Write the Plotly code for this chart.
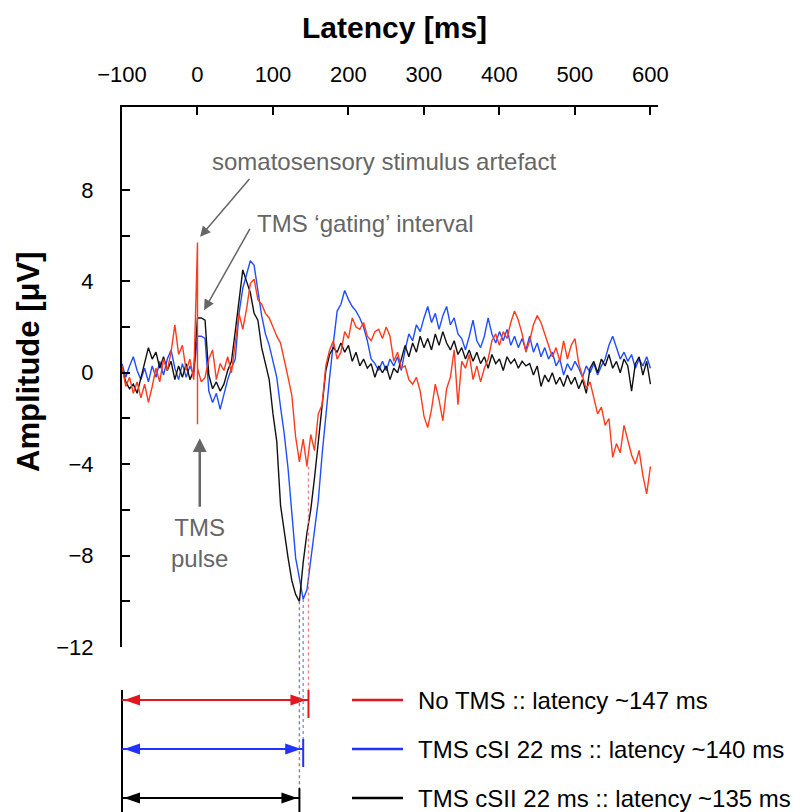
import plotly.graph_objects as go

# Averaged SEP traces, sampled every 5 ms from -100 ms to 600 ms (amplitude in µV)
T_START = -100
T_STEP = 5

NO_TMS = [
    0.3, -0.6, -0.2, -0.9, -0.4, -1.1, -0.5, -1.3, -0.6, 0.2,
    -0.4, 0.6, 0.1, 0.9, 2.1, 0.8, 1.2, 0.1, 0.6, -0.3,
    0.2, -0.4, -0.2, 0.6, 1.0, -0.3, 0.4, 0.1, 0.7, 0.0,
    1.3, 2.6, 1.9, 2.8, 3.9, 4.1, 3.2, 3.0, 2.6, 2.4,
    2.0, 1.6, 1.3, 0.6, -0.2, -1.0, -2.8, -3.9, -2.9, -4.1,
    -2.7, -3.4, -1.8, -1.4, 0.3, 1.0, 1.4, 0.6, 0.9, 1.8,
    1.5, 2.4, 2.0, 1.9, 2.2, 1.6, 1.4, 1.8, 1.9, 1.5,
    2.0, 1.6, 0.5, 0.9, 0.2, 0.3, -0.3, -0.5, -0.2, -0.8,
    -1.9, -2.4, -1.6, -0.5, -1.2, -2.1, -0.7, -0.2, 1.0, -1.4,
    0.5, 0.2, 0.8, -0.3, 0.3, -0.4, 0.2, 0.6, 1.4, 1.7,
    1.2, 1.8, 1.5, 2.2, 2.7, 2.3, 1.7, 0.9, 1.4, 2.1,
    2.5, 2.2, 1.7, 1.3, 0.7, 1.1, 0.5, 1.4, 0.6, 1.2,
    1.5, 0.4, -0.2, -0.7, -0.4, -1.1, -1.8, -1.5, -2.3, -2.0,
    -3.7, -3.1, -3.5, -2.3, -2.9, -3.6, -4.0, -3.4, -4.5, -5.3,
    -4.1,
]
TMS_CSI = [
    0.4, -0.2, 0.3, 0.7, 0.1, -0.3, 0.2, -0.4, 0.3, -0.2,
    0.5, -0.1, 0.6, 1.0, 0.2, -0.3, 0.4, -0.2, 0.3, -0.1,
    1.6, 1.6, 1.5, -0.8, -1.3, -0.9, -1.6, -0.9, -0.3, 0.2,
    0.6, 2.6, 3.7, 4.3, 4.9, 4.7, 3.6, 2.5, 1.7, 1.2,
    0.5, -0.2, -1.5, -2.7, -4.2, -6.1, -8.1, -9.0, -9.9, -9.5,
    -8.2, -7.0, -5.6, -3.6, -1.8, -0.2, 1.3, 2.7, 3.0, 3.6,
    3.2, 2.9, 2.7, 2.4, 2.0, 1.4, 0.6, 0.4, 0.1, 0.5,
    0.1, 0.6, 0.3, 0.7, 0.1, 1.0, 1.7, 1.4, 2.1, 1.8,
    2.4, 2.9, 2.2, 2.6, 1.9, 2.5, 2.9, 2.1, 2.4, 1.7,
    1.5, 1.0, 1.6, 2.3, 1.4, 1.1, 1.6, 2.4, 1.7, 1.3,
    1.8, 1.4, 1.9, 1.2, 1.6, 1.1, 1.5, 1.0, 1.6, 0.9,
    1.3, 0.7, 1.1, 0.6, 0.9, 0.3, 0.6, -0.1, 0.4, 0.1,
    0.5, 0.2, -0.2, 0.3, 0.0, 0.4, -0.1, 0.3, 0.6, 1.2,
    1.6, 1.1, 0.6, 0.9, 0.5, 0.8, 0.2, 0.6, 0.3, 0.7,
    0.2,
]
TMS_CSII = [
    0.2, -0.4, -0.7, -0.5, -0.9, -0.2, 0.4, 1.1, 0.6, 0.9,
    0.2, 0.7, 0.1, 0.5, -0.3, 0.3, -0.2, 0.4, -0.3, 0.1,
    2.4, 2.4, 2.3, -0.1, -0.7, -0.4, -0.8, -0.5, 0.1, 0.5,
    1.8, 3.2, 4.5, 4.0, 3.5, 2.6, 2.3, 1.1, 0.4, -0.3,
    -1.8, -3.0, -5.8, -7.0, -8.1, -9.1, -9.7, -10.0, -8.3, -7.0,
    -6.0, -4.6, -3.0, -1.7, 0.1, 0.8, 1.1, 0.9, 1.3, 0.9,
    1.2, 0.5, 0.9, 0.3, 0.6, 0.2, 0.4, -0.2, 0.3, 0.0,
    0.3, -0.3, 0.2, 0.0, 0.6, 1.2, 0.7, 1.3, 0.9, 1.6,
    1.1, 1.5, 1.0, 1.7, 1.2, 1.8, 1.3, 1.0, 1.4, 0.8,
    1.1, 0.6, 1.0, 0.5, 0.9, 0.4, 0.7, 0.2, 0.8, 0.4,
    0.6, 0.1, 0.7, 0.4, 0.6, 0.2, 0.5, 0.3, 0.4, -0.1,
    0.3, -0.6, -0.1, -0.4, 0.0, -0.5, -0.2, -0.6, -0.1, -0.5,
    -0.2, -0.7, -0.3, -0.9, 0.2, 0.5, 0.0, 0.6, 0.3, 0.8,
    0.2, 0.5, 0.0, 0.6, 0.3, -0.8, 0.4, 0.7, -0.1, 0.5,
    -0.5,
]
# Somatosensory stimulus artefact in the No-TMS trace at 0 ms (peak, trough)
STIM_ARTEFACT = [5.7, -2.25]

CONDITIONS = ["No TMS", "TMS cSI 22 ms", "TMS cSII 22 ms"]
LATENCIES = [147, 140, 135]

X_TICKS = [-100, 0, 100, 200, 300, 400, 500, 600]
X_TICK_LABELS = ["\u2212100", "0", "100", "200", "300", "400", "500", "600"]
Y_TICKS = [-12, -10, -8, -6, -4, -2, 0, 2, 4, 6, 8]
Y_TICK_LABELS = ["\u221212", "", "\u22128", "", "\u22124", "", "0", "", "4", "", "8"]

# ---- styling / geometry ----
FONT = "Liberation Sans, Arial, Helvetica, sans-serif"
GREY = "#666666"
TRACE_COLORS = ["#ff3b1c", "#1f4dff", "#111111"]
MARK_COLORS = ["#e3161d", "#2233ff", "#000000"]
DASH_COLORS = ["rgba(240,110,110,0.85)", "rgba(100,125,255,0.85)", "rgba(110,110,110,0.85)"]

X_RANGE = [-100, 610]
Y_RANGE = [-12, 11.63]

W, H = 793, 812
M_L, M_R, M_T, M_B = 122, 135, 107, 165
PW = W - M_L - M_R
PH = H - M_T - M_B

ROW_PX = [700, 749, 798]          # vertical pixel rows of the latency arrows / legend
LEG_X0, LEG_X1, LEG_TXT = 352, 403, 416


def xp(t):
    return (t - X_RANGE[0]) / (X_RANGE[1] - X_RANGE[0])


def yp_val(v):
    return (v - Y_RANGE[0]) / (Y_RANGE[1] - Y_RANGE[0])


def yp_px(ypx):
    return (M_T + PH - ypx) / PH


def xp_px(xpx):
    return (xpx - M_L) / PW


times = [T_START + i * T_STEP for i in range(len(NO_TMS))]
i0 = times.index(0)
red_x = times[:i0] + [0, 0] + times[i0:]
red_y = NO_TMS[:i0] + STIM_ARTEFACT + NO_TMS[i0:]

fig = go.Figure()
fig.add_trace(go.Scatter(x=times, y=TMS_CSI, mode="lines", name=CONDITIONS[1],
                         line=dict(color=TRACE_COLORS[1], width=1.4)))
fig.add_trace(go.Scatter(x=times, y=TMS_CSII, mode="lines", name=CONDITIONS[2],
                         line=dict(color=TRACE_COLORS[2], width=1.4)))
fig.add_trace(go.Scatter(x=red_x, y=red_y, mode="lines", name=CONDITIONS[0],
                         line=dict(color=TRACE_COLORS[0], width=1.4)))

shapes = []
annotations = []

series_list = [NO_TMS, TMS_CSI, TMS_CSII]
x_left_px = M_L + xp(-100) * PW

# left reference line of the latency arrows
shapes.append(dict(type="line", xref="paper", yref="paper",
                   x0=xp(-100), x1=xp(-100), y0=yp_px(ROW_PX[0] - 10), y1=yp_px(H + 5),
                   line=dict(color="black", width=2)))

for i, (lat, series) in enumerate(zip(LATENCIES, series_list)):
    row = ROW_PX[i]
    trough = min(v for t, v in zip(times, series) if abs(t - lat) <= 8)
    # dashed drop line from the trough to the arrow
    shapes.append(dict(type="line", xref="paper", yref="paper",
                       x0=xp(lat), x1=xp(lat), y0=yp_val(trough), y1=yp_px(row - 10),
                       line=dict(color=DASH_COLORS[i], width=1.4, dash="3px,3px")))
    # end tick
    shapes.append(dict(type="line", xref="paper", yref="paper",
                       x0=xp(lat), x1=xp(lat), y0=yp_px(row - 10), y1=yp_px(row + 18),
                       line=dict(color=MARK_COLORS[i], width=2)))
    # arrow shaft
    shapes.append(dict(type="line", xref="paper", yref="paper",
                       x0=xp(-100), x1=xp(lat), y0=yp_px(row), y1=yp_px(row),
                       line=dict(color=MARK_COLORS[i], width=2)))
    # arrow heads
    x_lat_px = M_L + xp(lat) * PW
    for tip, base in [(x_left_px + 2, x_left_px + 18), (x_lat_px - 2, x_lat_px - 18)]:
        path = "M{},{} L{},{} L{},{} Z".format(
            xp_px(tip), yp_px(row),
            xp_px(base), yp_px(row - 5.5),
            xp_px(base), yp_px(row + 5.5))
        shapes.append(dict(type="path", xref="paper", yref="paper", path=path,
                           fillcolor=MARK_COLORS[i], line=dict(width=0)))
    # legend entry
    shapes.append(dict(type="line", xref="paper", yref="paper",
                       x0=xp_px(LEG_X0), x1=xp_px(LEG_X1), y0=yp_px(row), y1=yp_px(row),
                       line=dict(color=MARK_COLORS[i], width=2.5)))
    annotations.append(dict(xref="paper", yref="paper", x=xp_px(LEG_TXT), y=yp_px(row),
                            xanchor="left", yanchor="middle", showarrow=False,
                            text="{} :: latency ~{} ms".format(CONDITIONS[i], lat),
                            font=dict(family=FONT, size=24, color="black")))

# labelled pointers inside the plot
annotations += [
    dict(x=247, y=9.26, xref="x", yref="y", showarrow=False,
         text="somatosensory stimulus artefact",
         font=dict(family=FONT, size=24, color=GREY)),
    dict(x=3.4, y=5.95, ax=70.5, ay=8.55, xref="x", yref="y", axref="x", ayref="y",
         text="", showarrow=True, arrowhead=2, arrowsize=1.4, arrowwidth=1.5,
         arrowcolor=GREY),
    dict(x=222.7, y=6.55, xref="x", yref="y", showarrow=False,
         text="TMS \u2018gating\u2019 interval",
         font=dict(family=FONT, size=24, color=GREY)),
    dict(x=8.7, y=2.74, ax=70.5, ay=6.36, xref="x", yref="y", axref="x", ayref="y",
         text="", showarrow=True, arrowhead=2, arrowsize=1.4, arrowwidth=1.5,
         arrowcolor=GREY),
    dict(x=3.0, y=-2.86, ax=3.0, ay=-5.93, xref="x", yref="y", axref="x", ayref="y",
         text="", showarrow=True, arrowhead=2, arrowsize=1.1, arrowwidth=2.5,
         arrowcolor=GREY),
    dict(x=3.0, y=-7.45, xref="x", yref="y", showarrow=False,
         text="TMS<br>pulse", align="center",
         font=dict(family=FONT, size=24, color=GREY)),
]

# axis titles
annotations += [
    dict(xref="paper", yref="paper", x=xp_px(394), y=yp_px(28), showarrow=False,
         xanchor="center", yanchor="middle", text="<b>Latency [ms]</b>",
         font=dict(family=FONT, size=30, color="black")),
    dict(xref="paper", yref="paper", x=xp_px(28), y=yp_px(362), showarrow=False,
         xanchor="center", yanchor="middle", textangle=-90,
         text="<b>Amplitude [\u03bcV]</b>",
         font=dict(family=FONT, size=31, color="black")),
]

fig.update_layout(
    width=W, height=H,
    margin=dict(l=M_L, r=M_R, t=M_T, b=M_B, pad=0),
    paper_bgcolor="white", plot_bgcolor="white",
    showlegend=False,
    font=dict(family=FONT, size=22, color="black"),
    shapes=shapes,
    annotations=annotations,
    xaxis=dict(range=X_RANGE, side="top", showgrid=False, zeroline=False,
               showline=True, linecolor="black", linewidth=2,
               ticks="inside", ticklen=8, tickwidth=2, tickcolor="black",
               tickvals=X_TICKS, ticktext=X_TICK_LABELS, ticklabelstandoff=14,
               tickfont=dict(family=FONT, size=22, color="black")),
    yaxis=dict(range=Y_RANGE, showgrid=False, zeroline=False,
               showline=True, linecolor="black", linewidth=2,
               ticks="inside", ticklen=8, tickwidth=2, tickcolor="black",
               tickvals=Y_TICKS, ticktext=Y_TICK_LABELS, ticklabelstandoff=22,
               tickfont=dict(family=FONT, size=22, color="black")),
)

fig.write_html("out.html")
